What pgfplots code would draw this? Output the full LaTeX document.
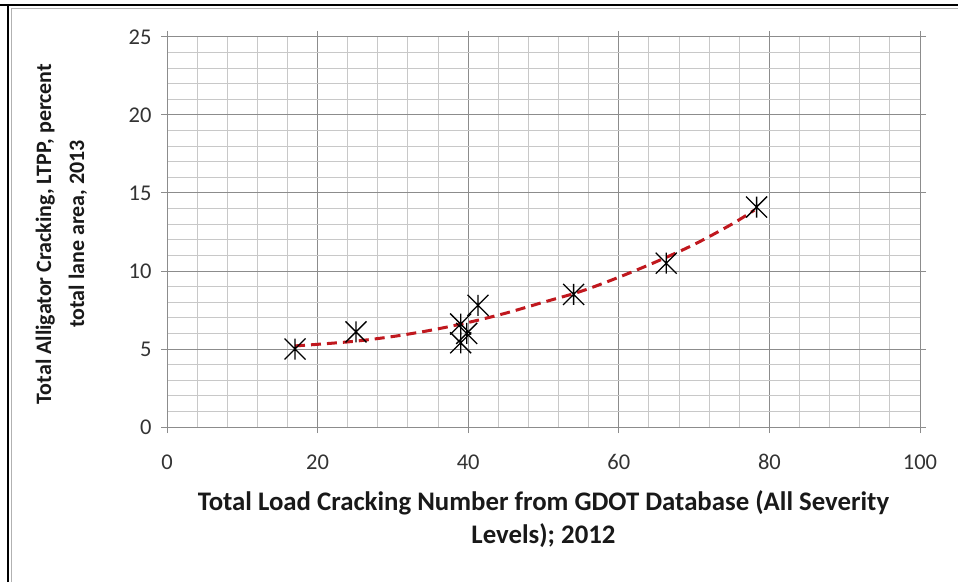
\documentclass[border=0pt]{standalone}
\usepackage{fontspec}
\setmainfont{Carlito}
\usepackage{pgfplots}
\pgfplotsset{compat=1.18}
\pgfdeclareplotmark{xstar}{%
  \pgfpathmoveto{\pgfqpoint{0pt}{\pgfplotmarksize}}%
  \pgfpathlineto{\pgfqpoint{0pt}{-\pgfplotmarksize}}%
  \pgfpathmoveto{\pgfqpoint{-\pgfplotmarksize}{\pgfplotmarksize}}%
  \pgfpathlineto{\pgfqpoint{\pgfplotmarksize}{-\pgfplotmarksize}}%
  \pgfpathmoveto{\pgfqpoint{-\pgfplotmarksize}{-\pgfplotmarksize}}%
  \pgfpathlineto{\pgfqpoint{\pgfplotmarksize}{\pgfplotmarksize}}%
  \pgfusepathqstroke}
\definecolor{majgrid}{HTML}{8C8C8C}
\definecolor{mingrid}{HTML}{C8C8C8}
\definecolor{trend}{HTML}{C0181E}
\begin{document}
\begin{tikzpicture}[x=1pt,y=1pt]
\path[use as bounding box] (0,0) rectangle (958,582);
% frame lines (table cell border + chart area)
\draw[black,line width=2pt] (0,577) -- (958,577);
\draw[black,line width=2pt] (8,0) -- (8,578);
\draw[gray!60,line width=1pt] (11,0) -- (11,573) -- (958,573);
\begin{axis}[
  at={(167pt,155pt)}, anchor=south west,
  width=753pt, height=390pt, scale only axis,
  xmin=0, xmax=100, ymin=0, ymax=25,
  xtick={0,20,...,100}, ytick={0,5,...,25},
  minor x tick num=4, minor y tick num=4,
  grid=both,
  major grid style={majgrid, line width=1pt},
  minor grid style={mingrid, line width=1pt},
  axis line style={majgrid, line width=1pt},
  tick align=outside, major tick length=6pt, minor tick length=0pt,
  tick style={majgrid, line width=1pt},
  tick label style={font=\fontsize{22.5}{27}\selectfont, text=black!80},
  /pgf/number format/assume math mode=true,
  xticklabel style={yshift=-18pt},
  yticklabel style={xshift=-6pt},
  clip=false,
]
\addplot[trend, line width=3pt, dash pattern=on 10pt off 6pt, smooth] coordinates {
  (17,5.2) (20,5.3) (25,5.5) (30,5.8) (35,6.2) (40,6.7) (45,7.3) (50,8.0)
  (55,8.7) (60,9.6) (65,10.6) (70,11.7) (75,13.0) (78,13.9)
};
\addplot[only marks, mark=xstar, mark size=10.5pt, mark options={black, line width=1.3pt}] coordinates {
  (17,5.0) (25.1,6.1) (39,6.6) (39,5.4) (39.8,6.0) (41.3,7.8) (54,8.5) (66.3,10.5) (78.3,14.1)
};
\end{axis}
\node[align=center, font=\fontsize{26.8}{33}\selectfont\bfseries, text=black!90] at (543.5,63)
  {Total Load Cracking Number from GDOT Database (All Severity\\Levels); 2012};
\node[align=center, rotate=90, font=\fontsize{22}{33}\selectfont\bfseries, text=black!90] at (61.5,348)
  {Total Alligator Cracking, LTPP, percent\\total lane area, 2013};
\end{tikzpicture}
\end{document}
